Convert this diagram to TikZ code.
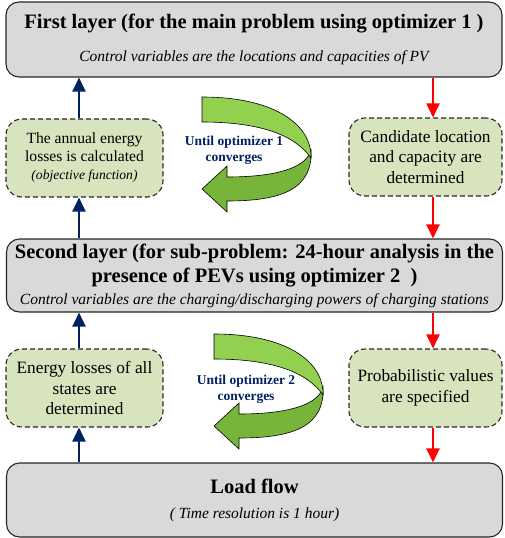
\documentclass[tikz,border=0pt]{standalone}
\usepackage{fontspec}
\setmainfont{Liberation Serif}
\usepackage{tikz}
\usetikzlibrary{arrows.meta}

\definecolor{layergray}{HTML}{D9D9D9}
\definecolor{stepgreen}{HTML}{D7E4BD}
\definecolor{upnavy}{HTML}{002060}
\definecolor{downred}{HTML}{FF0000}
\definecolor{looplight}{HTML}{92D050}
\definecolor{loopdark}{HTML}{77B53A}

\tikzset{
    layerbox/.style={draw=black!85, line width=1.1pt, fill=layergray, rounded corners=13pt,
        minimum width=496pt, inner sep=0pt, align=center,
        font=\fontsize{20.5}{24}\selectfont},
    stepbox/.style={draw=black!85, line width=1.1pt, dash pattern=on 5pt off 3pt, fill=stepgreen,
        rounded corners=16pt, minimum height=78pt, inner sep=0pt, align=center,
        font=\fontsize{17.3}{20.5}\selectfont},
    uparrow/.style={draw=upnavy, line width=2pt, -{Triangle[length=14pt,width=13pt]}},
    downarrow/.style={draw=downred, line width=2pt, -{Triangle[length=14pt,width=13pt]}},
    looptext/.style={text=upnavy, align=center, font=\fontsize{13.5}{16}\selectfont\bfseries},
    convloop/.pic={
        % lower band with the head
        \filldraw[fill=loopdark, draw=black, line width=0.6pt]
            (109,53) .. controls (111,93) and (78,104) .. (25,104) -- (25,115) -- (0,92)
            -- (25,69) -- (25,80) .. controls (68,80) and (98,73) .. (107,58) -- cycle;
        % upper band
        \filldraw[fill=looplight, draw=black, line width=0.6pt]
            (0,0) .. controls (73,0) and (110,28) .. (109,61)
            .. controls (93,38) and (58,25) .. (0,25) -- cycle;
    }
}

\begin{document}
\begin{tikzpicture}[x=1pt, y=-1pt]
    \useasboundingbox (0,0) rectangle (504,538);
    \coordinate (upx) at (79,0);
    \coordinate (downx) at (433,0);

    \node[layerbox, minimum height=75pt] (layer1) at (254,39.5)
        {\bfseries First layer (for the main problem using optimizer 1 )\\[9pt]
         {\fontsize{15.5}{18}\selectfont\itshape Control variables are the locations and capacities of PV}};
    \node[layerbox, minimum height=73pt] (layer2) at (254.5,275.5)
        {\bfseries Second layer (for sub-problem: 24-hour analysis in the\\
         \bfseries presence of PEVs using optimizer 2\ \ )\\[-2pt]
         {\fontsize{15.5}{18}\selectfont\itshape Control variables are the charging/discharging powers of charging stations}};
    \node[layerbox, minimum height=74pt] (flow) at (254.5,500)
        {\bfseries Load flow\\[1pt]
         {\fontsize{15.5}{18}\selectfont\itshape ( Time resolution is 1 hour)}};

    \node[stepbox, minimum width=157pt, font=\fontsize{15.6}{18}\selectfont] (loss1) at (84.5,158)
        {The annual energy\\losses is calculated\\{\fontsize{13.6}{16}\selectfont\itshape (objective function)}};
    \node[stepbox, minimum width=153pt] (cand1) at (425.5,157)
        {Candidate location\\and capacity are\\determined};
    \node[stepbox, minimum width=157pt] (loss2) at (84.5,388)
        {Energy losses of all\\states are\\determined};
    \node[stepbox, minimum width=153pt] (prob2) at (425.5,388)
        {Probabilistic values\\are specified};

    \draw[uparrow] (loss1.north -| upx) -- (layer1.south -| upx);
    \draw[uparrow] (layer2.north -| upx) -- (loss1.south -| upx);
    \draw[uparrow] (loss2.north -| upx) -- (layer2.south -| upx);
    \draw[uparrow] (flow.north -| upx) -- (loss2.south -| upx);
    \draw[downarrow] (layer1.south -| downx) -- (cand1.north -| downx);
    \draw[downarrow] (cand1.south -| downx) -- (layer2.north -| downx);
    \draw[downarrow] (layer2.south -| downx) -- (prob2.north -| downx);
    \draw[downarrow] (prob2.south -| downx) -- (flow.north -| downx);

    \pic at (202,97) {convloop};
    \node[looptext] (conv1) at (234,150) {Until optimizer 1\\converges};
    \pic at (214,334) {convloop};
    \node[looptext] (conv2) at (246,389) {Until optimizer 2\\converges};
\end{tikzpicture}
\end{document}
